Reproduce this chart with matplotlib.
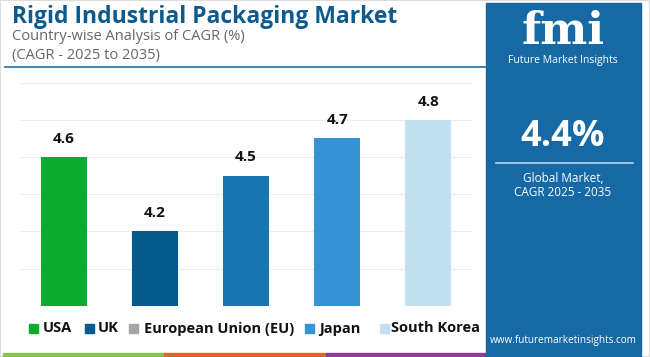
import matplotlib.pyplot as plt
from matplotlib.patches import Rectangle
from matplotlib.lines import Line2D

plt.rcParams['font.family'] = ['Open Sans', 'DejaVu Sans']

# Data
countries = ['USA', 'UK', 'European Union (EU)', 'Japan', 'South Korea']
cagr = [4.6, 4.2, 4.5, 4.7, 4.8]
bar_colors = ['#0aab2e', '#045a8d', '#1b75b0', '#3494d6', '#c2e0f1']
legend_colors = ['#0aab2e', '#045a8d', '#a6a6a6', '#3494d6', '#c2e0f1']
global_cagr = '4.4%'

W, H = 650, 357
fig = plt.figure(figsize=(6.5, 3.57), dpi=100)

def fx(px):
    return px / W

def fy(py):
    return 1 - py / H

# light border
fig.add_artist(Rectangle((0, 0), 1, 1, transform=fig.transFigure,
                         fill=False, edgecolor='#dddddd', lw=1.5))

# Titles
fig.text(fx(12), fy(17), 'Rigid Industrial Packaging Market', fontsize=16.5,
         fontweight='bold', color='#0d5a8f', va='center', ha='left')
fig.text(fx(12), fy(37), 'Country-wise Analysis of CAGR (%)', fontsize=10.5,
         color='#666666', va='center', ha='left')
fig.text(fx(12), fy(56), '(CAGR - 2025 to 2035)', fontsize=10.5,
         color='#666666', va='center', ha='left')
fig.add_artist(Line2D([fx(5), fx(486)], [fy(67), fy(67)], transform=fig.transFigure,
                      color='#1f6ea5', lw=1.2))

# Bar chart
ax = fig.add_axes([fx(20), fy(305.7), fx(472) - fx(20), fy(82.7) - fy(305.7)])
x = range(len(countries))
ax.bar(x, cagr, width=0.5, color=bar_colors, zorder=3)
for xi, v in zip(x, cagr):
    ax.text(xi, v + 0.06, f'{v}', ha='center', va='bottom', fontsize=11,
            fontweight='bold', color='#111111', zorder=4)
ax.set_ylim(3.8, 5.0)
ax.set_xlim(-0.48, 4.48)
ax.set_yticks([3.8, 4.0, 4.2, 4.4, 4.6, 4.8, 5.0])
ax.grid(axis='y', color='#ececec', lw=0.8, zorder=0)
ax.tick_params(left=False, bottom=False, labelleft=False, labelbottom=False)
for s in ax.spines.values():
    s.set_visible(False)

# Legend (manual)
leg_items = [(29, 43), (85, 98), (129, 144), (305, 319), (380, 391)]
for (sq, tx), name, c in zip(leg_items, countries, legend_colors):
    fig.add_artist(Rectangle((fx(sq), fy(333)), fx(9), 9 / H,
                             transform=fig.transFigure, color=c))
    fig.text(fx(tx), fy(328.5), name, fontsize=10.5, fontweight='bold',
             color='#111111', va='center', ha='left')

# Bottom stripe
for x0, x1, c in [(3, 164, '#8bc34a'), (164, 326, '#e0672c'), (326, 486, '#8e3a96')]:
    fig.add_artist(Rectangle((fx(x0), 0), fx(x1 - x0), 4 / H,
                             transform=fig.transFigure, color=c))

# Right panel
fig.add_artist(Rectangle((fx(486), 0), fx(155), fy(3),
                         transform=fig.transFigure, color='#1769a6'))
fig.text(fx(563), fy(31), 'fmi', fontsize=32, fontweight='bold', color='white',
         ha='center', va='center', family=['DejaVu Serif'])
fig.text(fx(563), fy(60), 'Future Market Insights', fontsize=7.5, color='white',
         ha='center', va='center')
fig.text(fx(563), fy(137), global_cagr, fontsize=26, fontweight='bold',
         color='white', ha='center', va='center')
fig.add_artist(Line2D([fx(496), fx(633)], [fy(163), fy(163)], transform=fig.transFigure,
                      color='#b9d3e8', lw=1.2))
fig.text(fx(563), fy(179), 'Global Market,', fontsize=8.5, color='white',
         ha='center', va='center')
fig.text(fx(563), fy(193), 'CAGR 2025 - 2035', fontsize=8.5, color='white',
         ha='center', va='center')
fig.text(fx(563), fy(341), 'www.futuremarketinsights.com', fontsize=7.2,
         color='white', ha='center', va='center')

fig.savefig('out.png', dpi=100)
